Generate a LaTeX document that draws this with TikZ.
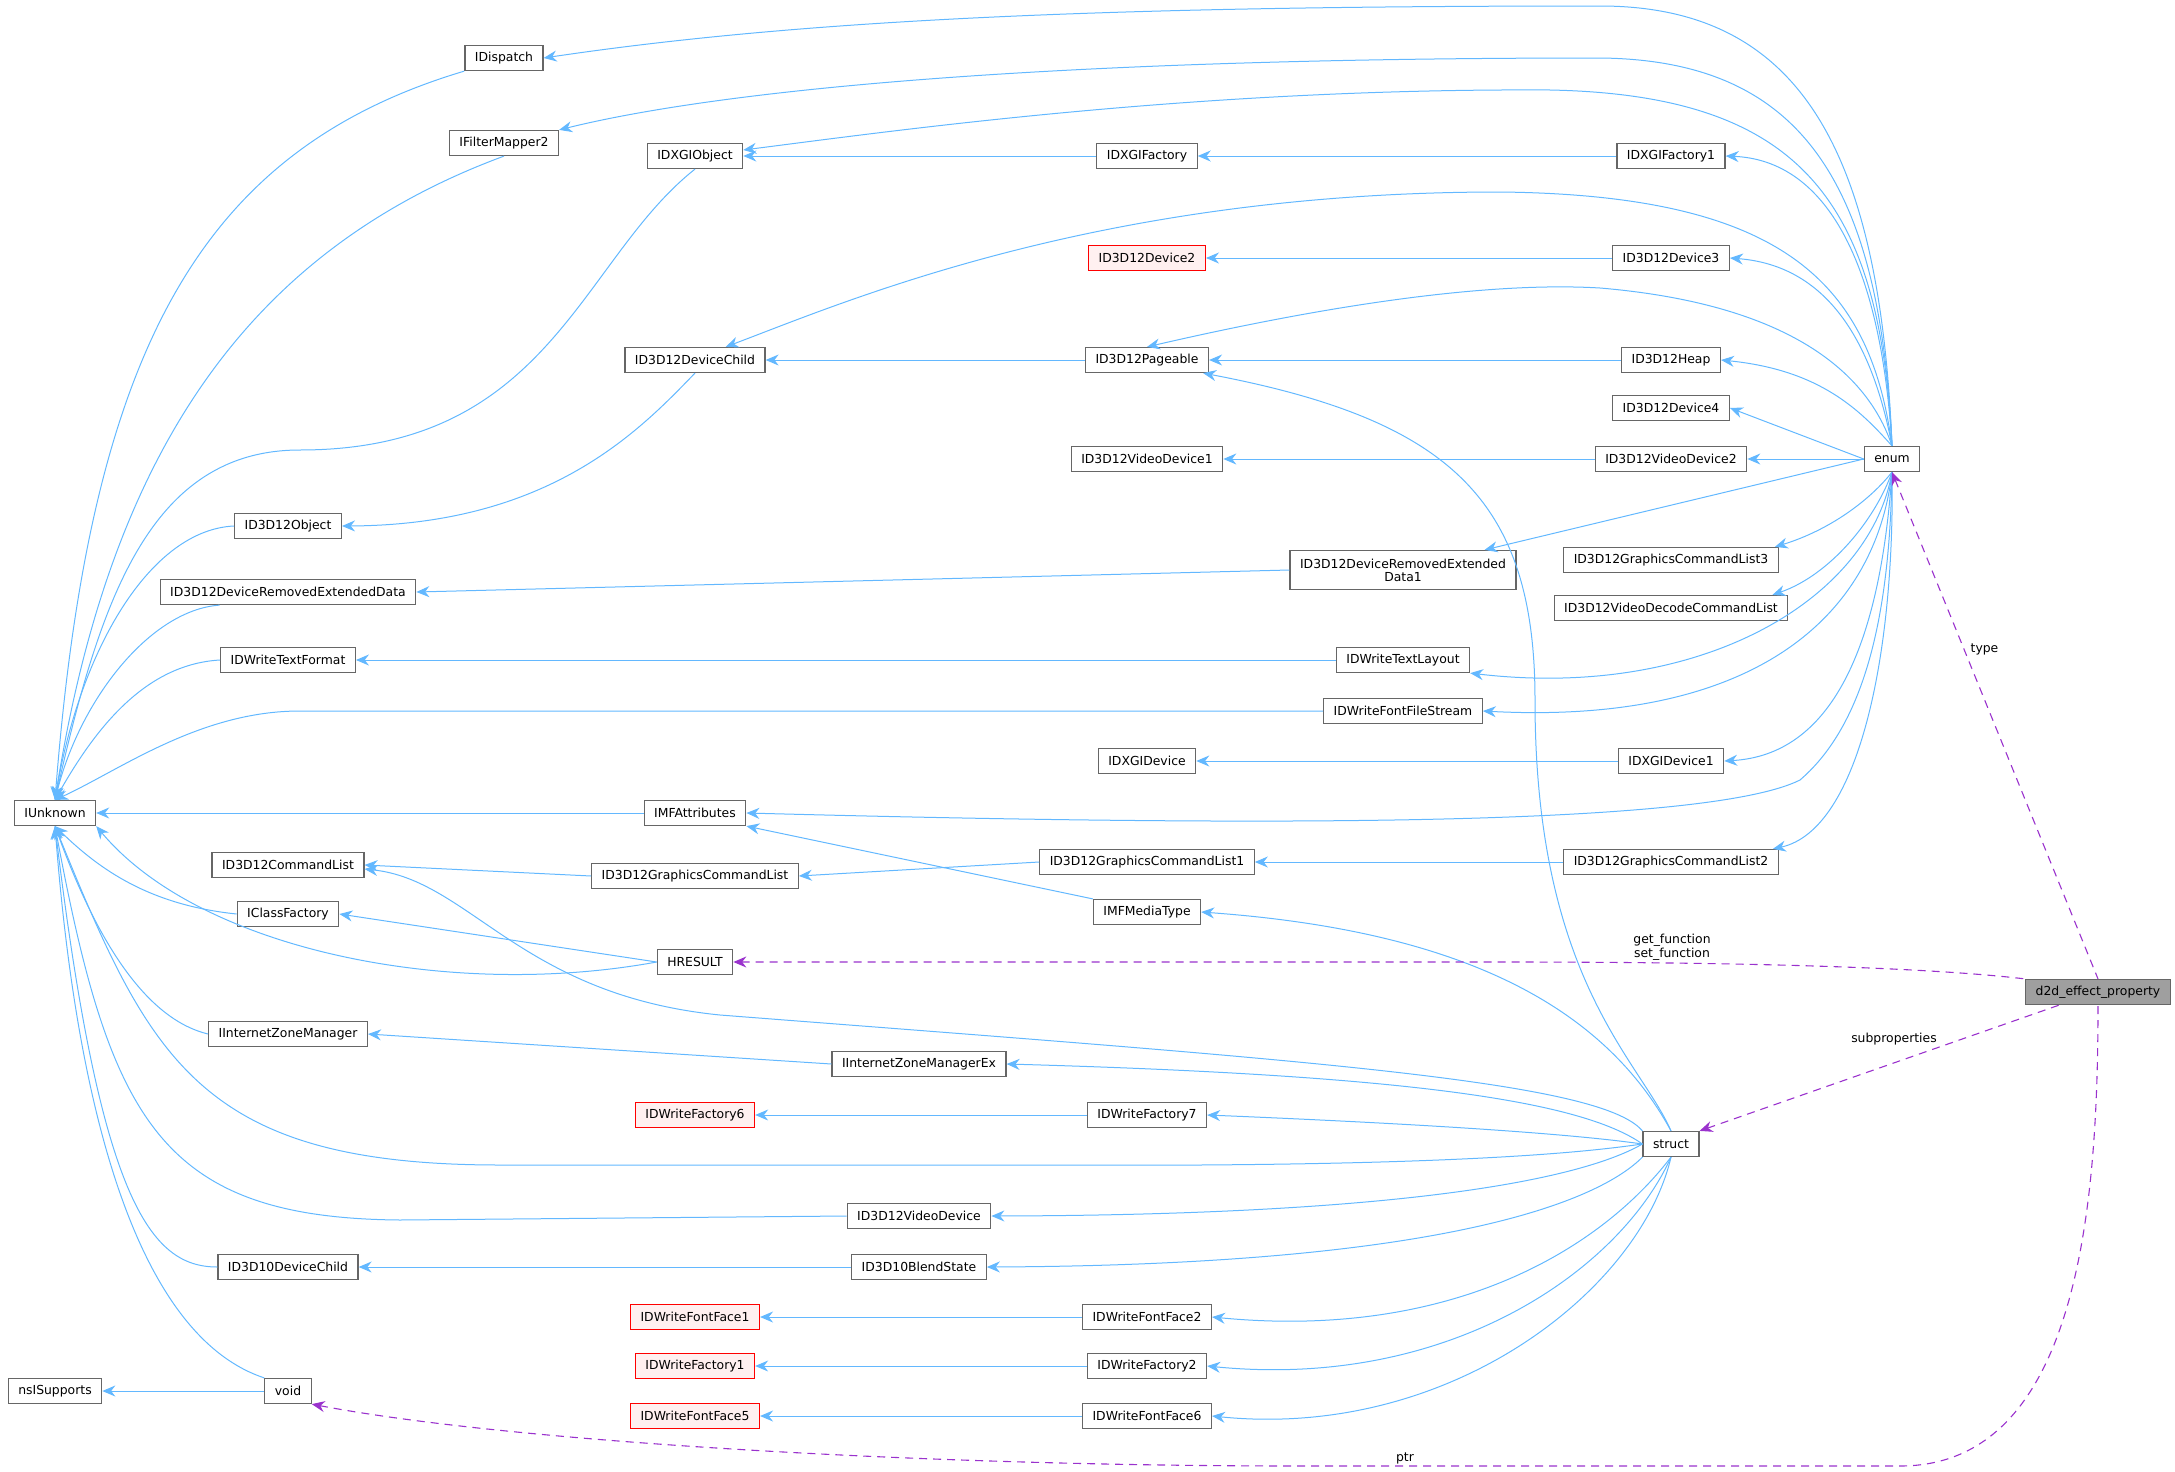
\documentclass[tikz,border=0pt]{standalone}
\usepackage{fontspec}
\setmainfont{DejaVu Sans}
\usetikzlibrary{arrows.meta}
\definecolor{eb}{HTML}{63B8FF}
\definecolor{ep}{HTML}{9A32CD}
\definecolor{bd}{HTML}{666666}
\begin{document}
\begin{tikzpicture}[x=0.5pt,y=0.5pt,
  n/.style={draw=bd,fill=white,rectangle,inner xsep=5pt,inner ysep=0pt,minimum height=12.5pt,font=\fontsize{6.2}{7}\selectfont,line width=0.6pt},
  r/.style={n,draw=red,fill=red!6},
  inh/.style={draw=eb,line width=0.5pt,{Stealth[length=6.5pt,width=5.5pt]}-},
  dep/.style={draw=ep,line width=0.55pt,dash pattern=on 4pt off 3pt,{Stealth[length=6.5pt,width=5.5pt]}-},
  lab/.style={font=\fontsize{6.2}{7}\selectfont,align=center,inner sep=1pt}]
\useasboundingbox (0,0) rectangle (2175,-1472);
% nodes
\node[n] (IDispatch) at (504,-58) {IDispatch};
\node[n] (IFilterMapper2) at (504,-143) {IFilterMapper2};
\node[n] (IDXGIObject) at (695,-156) {IDXGIObject};
\node[n] (IDXGIFactory) at (1147,-156) {IDXGIFactory};
\node[n] (IDXGIFactory1) at (1671,-156) {IDXGIFactory1};
\node[r] (ID3D12Device2) at (1147,-258) {ID3D12Device2};
\node[n] (ID3D12Device3) at (1671,-258) {ID3D12Device3};
\node[n] (ID3D12DeviceChild) at (695,-360) {ID3D12DeviceChild};
\node[n] (ID3D12Pageable) at (1147,-360) {ID3D12Pageable};
\node[n] (ID3D12Heap) at (1671,-360) {ID3D12Heap};
\node[n] (ID3D12Device4) at (1671,-408) {ID3D12Device4};
\node[n] (ID3D12VideoDevice1) at (1147,-459) {ID3D12VideoDevice1};
\node[n] (ID3D12VideoDevice2) at (1671,-459) {ID3D12VideoDevice2};
\node[n] (enum) at (1892,-459) {enum};
\node[n] (ID3D12Object) at (288,-526) {ID3D12Object};
\node[n,align=center,minimum height=19.5pt,font=\fontsize{6.2}{6.6}\selectfont] (DRED1) at (1403,-570) {ID3D12DeviceRemovedExtended\\Data1};
\node[n] (DRED) at (288,-592) {ID3D12DeviceRemovedExtendedData};
\node[n] (GCL3) at (1671,-560) {ID3D12GraphicsCommandList3};
\node[n] (VDCL) at (1671,-608) {ID3D12VideoDecodeCommandList};
\node[n] (IDWriteTextFormat) at (288,-660) {IDWriteTextFormat};
\node[n] (IDWriteTextLayout) at (1403,-660) {IDWriteTextLayout};
\node[n] (FFS) at (1403,-711) {IDWriteFontFileStream};
\node[n] (IDXGIDevice) at (1147,-761) {IDXGIDevice};
\node[n] (IDXGIDevice1) at (1671,-761) {IDXGIDevice1};
\node[n] (IUnknown) at (55,-813) {IUnknown};
\node[n] (IMFAttributes) at (695,-813) {IMFAttributes};
\node[n] (ID3D12CommandList) at (288,-865) {ID3D12CommandList};
\node[n] (GCL) at (695,-876) {ID3D12GraphicsCommandList};
\node[n] (GCL1) at (1147,-862) {ID3D12GraphicsCommandList1};
\node[n] (GCL2) at (1671,-862) {ID3D12GraphicsCommandList2};
\node[n] (IClassFactory) at (288,-914) {IClassFactory};
\node[n] (IMFMediaType) at (1147,-912) {IMFMediaType};
\node[n] (HRESULT) at (695,-962) {HRESULT};
\node[n,fill=gray!75] (d2d) at (2098,-992) {d2d\_effect\_property};
\node[n] (IZM) at (288,-1034) {IInternetZoneManager};
\node[n] (IZMEx) at (919,-1064) {IInternetZoneManagerEx};
\node[r] (IDWriteFactory6) at (695,-1115) {IDWriteFactory6};
\node[n] (IDWriteFactory7) at (1147,-1115) {IDWriteFactory7};
\node[n] (struct) at (1671,-1144) {struct};
\node[n] (ID3D12VideoDevice) at (919,-1216) {ID3D12VideoDevice};
\node[n] (ID3D10DeviceChild) at (288,-1267) {ID3D10DeviceChild};
\node[n] (ID3D10BlendState) at (919,-1267) {ID3D10BlendState};
\node[r] (IDWriteFontFace1) at (695,-1317) {IDWriteFontFace1};
\node[n] (IDWriteFontFace2) at (1147,-1317) {IDWriteFontFace2};
\node[r] (IDWriteFactory1) at (695,-1366) {IDWriteFactory1};
\node[n] (IDWriteFactory2) at (1147,-1366) {IDWriteFactory2};
\node[r] (IDWriteFontFace5) at (695,-1416) {IDWriteFontFace5};
\node[n] (IDWriteFontFace6) at (1147,-1416) {IDWriteFontFace6};
\node[n] (nsISupports) at (55,-1391) {nsISupports};
\node[n] (void) at (288,-1391) {void};
% enum edges (top)
\draw[inh] (IDispatch.east) .. controls (800,-20) and (1100,-6) .. (1600,-6) .. controls (1800,-6) and (1880,-150) .. (enum.north);
\draw[inh] (IFilterMapper2.north east) .. controls (700,-95) and (1000,-58) .. (1600,-58) .. controls (1800,-60) and (1880,-180) .. (enum.north);
\draw[inh] ([yshift=3pt]IDXGIObject.east) .. controls (900,-130) and (1200,-88) .. (1550,-90) .. controls (1800,-95) and (1880,-200) .. (enum.north);
\draw[inh] (IDXGIFactory1.east) .. controls (1820,-160) and (1880,-250) .. (enum.north);
\draw[inh] ([xshift=-20pt]ID3D12DeviceChild.north east) .. controls (850,-300) and (1100,-192) .. (1500,-192) .. controls (1780,-195) and (1870,-280) .. (enum.north);
\draw[inh] (ID3D12Device3.east) .. controls (1820,-265) and (1870,-330) .. (enum.north);
\draw[inh] (ID3D12Pageable.north) .. controls (1350,-300) and (1500,-282) .. (1600,-288) .. controls (1800,-305) and (1870,-380) .. (enum.north);
\draw[inh] (ID3D12Heap.east) .. controls (1820,-370) and (1860,-410) .. (enum.north);
\draw[inh] (ID3D12Device4.east) -- (enum.west);
\draw[inh] (ID3D12VideoDevice2.east) -- (enum.west);
\draw[inh] ([xshift=-16pt]DRED1.north east) -- (enum.west);
\draw[inh] ([xshift=-2pt]GCL3.north east) .. controls (1830,-530) and (1870,-500) .. (enum.south);
\draw[inh] ([xshift=-8pt]VDCL.north east) .. controls (1830,-575) and (1875,-520) .. (enum.south);
\draw[inh] (IDWriteTextLayout.south east) .. controls (1700,-700) and (1870,-600) .. (enum.south);
\draw[inh] (FFS.east) .. controls (1750,-725) and (1875,-620) .. (enum.south);
\draw[inh] (IDXGIDevice1.east) .. controls (1830,-755) and (1880,-650) .. (enum.south);
\draw[inh] (IMFAttributes.east) .. controls (1200,-825) and (1700,-830) .. (1800,-780) .. controls (1870,-720) and (1890,-600) .. (enum.south);
\draw[inh] ([xshift=-3pt]GCL2.north east) .. controls (1860,-830) and (1895,-650) .. (enum.south);
% straight chains
\draw[inh] (IDXGIObject.east) -- (IDXGIFactory.west);
\draw[inh] (IDXGIFactory.east) -- (IDXGIFactory1.west);
\draw[inh] (ID3D12Device2.east) -- (ID3D12Device3.west);
\draw[inh] (ID3D12DeviceChild.east) -- (ID3D12Pageable.west);
\draw[inh] (ID3D12Pageable.east) -- (ID3D12Heap.west);
\draw[inh] (ID3D12VideoDevice1.east) -- (ID3D12VideoDevice2.west);
\draw[inh] (DRED.east) -- (DRED1.west);
\draw[inh] (IDWriteTextFormat.east) -- (IDWriteTextLayout.west);
\draw[inh] (IDXGIDevice.east) -- (IDXGIDevice1.west);
\draw[inh] (GCL1.east) -- (GCL2.west);
\draw[inh] (GCL.east) -- (GCL1.west);
\draw[inh] (ID3D12CommandList.east) -- (GCL.west);
\draw[inh] (IClassFactory.east) -- (HRESULT.west);
\draw[inh] (IMFAttributes.south east) -- (IMFMediaType.north west);
\draw[inh] (IZM.east) -- (IZMEx.west);
\draw[inh] (IDWriteFactory6.east) -- (IDWriteFactory7.west);
\draw[inh] (ID3D10DeviceChild.east) -- (ID3D10BlendState.west);
\draw[inh] (IDWriteFontFace1.east) -- (IDWriteFontFace2.west);
\draw[inh] (IDWriteFactory1.east) -- (IDWriteFactory2.west);
\draw[inh] (IDWriteFontFace5.east) -- (IDWriteFontFace6.west);
\draw[inh] (nsISupports.east) -- (void.west);
\draw[inh] (ID3D12Object.east) .. controls (550,-525) and (640,-430) .. (ID3D12DeviceChild.south);
% struct edges
\draw[inh] ([xshift=-3pt]ID3D12Pageable.south east) .. controls (1450,-420) and (1535,-500) .. (1535,-700) .. controls (1535,-980) and (1640,-1060) .. (struct.north);
\draw[inh] (IMFMediaType.east) .. controls (1450,-930) and (1600,-1000) .. (struct.north);
\draw[inh] ([yshift=-2pt]ID3D12CommandList.east) .. controls (470,-880) and (520,-995) .. (720,-1015) .. controls (1300,-1060) and (1600,-1080) .. (struct.north west);
\draw[inh] (IZMEx.east) .. controls (1400,-1075) and (1580,-1100) .. (struct.west);
\draw[inh] (IDWriteFactory7.east) .. controls (1450,-1125) and (1580,-1135) .. (struct.west);
\draw[inh] (IUnknown.south) .. controls (150,-1060) and (200,-1165) .. (500,-1165) -- (1200,-1165) .. controls (1500,-1163) and (1600,-1150) .. (struct.west);
\draw[inh] (ID3D12VideoDevice.east) .. controls (1400,-1215) and (1580,-1180) .. (struct.west);
\draw[inh] (ID3D10BlendState.east) .. controls (1450,-1265) and (1600,-1200) .. (struct.south west);
\draw[inh] (IDWriteFontFace2.east) .. controls (1450,-1340) and (1600,-1250) .. (struct.south);
\draw[inh] (IDWriteFactory2.east) .. controls (1450,-1390) and (1620,-1270) .. (struct.south);
\draw[inh] (IDWriteFontFace6.east) .. controls (1450,-1440) and (1640,-1290) .. (struct.south);
% IUnknown edges
\draw[inh] (IUnknown.north) .. controls (90,-350) and (200,-150) .. (IDispatch.south west);
\draw[inh] (IUnknown.north) .. controls (110,-450) and (250,-250) .. (IFilterMapper2.south);
\draw[inh] (IUnknown.north) .. controls (100,-600) and (150,-450) .. (300,-450) .. controls (550,-450) and (580,-260) .. (IDXGIObject.south);
\draw[inh] (IUnknown.north) .. controls (80,-650) and (150,-530) .. (ID3D12Object.west);
\draw[inh] (IUnknown.north) .. controls (80,-700) and (150,-610) .. ([xshift=30pt]DRED.south west);
\draw[inh] (IUnknown.north) .. controls (100,-720) and (150,-664) .. (IDWriteTextFormat.west);
\draw[inh] (IUnknown.north) .. controls (120,-770) and (200,-711) .. (300,-711) -- (FFS.west);
\draw[inh] (IUnknown.east) -- (IMFAttributes.west);
\draw[inh] (IUnknown.south) .. controls (100,-870) and (150,-905) .. (IClassFactory.west);
\draw[inh] (IUnknown.south east) .. controls (200,-950) and (450,-1000) .. (HRESULT.west);
\draw[inh] (IUnknown.south) .. controls (100,-950) and (150,-1020) .. (IZM.west);
\draw[inh] (IUnknown.south) .. controls (110,-1120) and (160,-1218) .. (400,-1220) -- (ID3D12VideoDevice.west);
\draw[inh] (IUnknown.south) .. controls (100,-1200) and (150,-1267) .. (ID3D10DeviceChild.west);
\draw[inh] (IUnknown.south) .. controls (80,-1150) and (150,-1340) .. (void.north west);
% dependency edges
\draw[dep] (enum.south) -- node[lab,pos=0.35,right=2pt] {type} (d2d.north);
\draw[dep] (HRESULT.east) -- (1500,-962) .. controls (1800,-962) and (1950,-970) .. (d2d.north west);
\node[lab] (lgs) at (1672,-947) {get\_function\\set\_function};
\draw[dep] (struct.north east) -- ([xshift=17pt]d2d.south west);
\node[lab] (lsub) at (1894,-1039) {subproperties};
\draw[dep] (void.south east) .. controls (500,-1440) and (900,-1466) .. (1300,-1466) -- (1900,-1466) .. controls (2080,-1466) and (2098,-1200) .. (d2d.south);
\node[lab] (lptr) at (1405,-1458) {ptr};
\end{tikzpicture}
\end{document}
